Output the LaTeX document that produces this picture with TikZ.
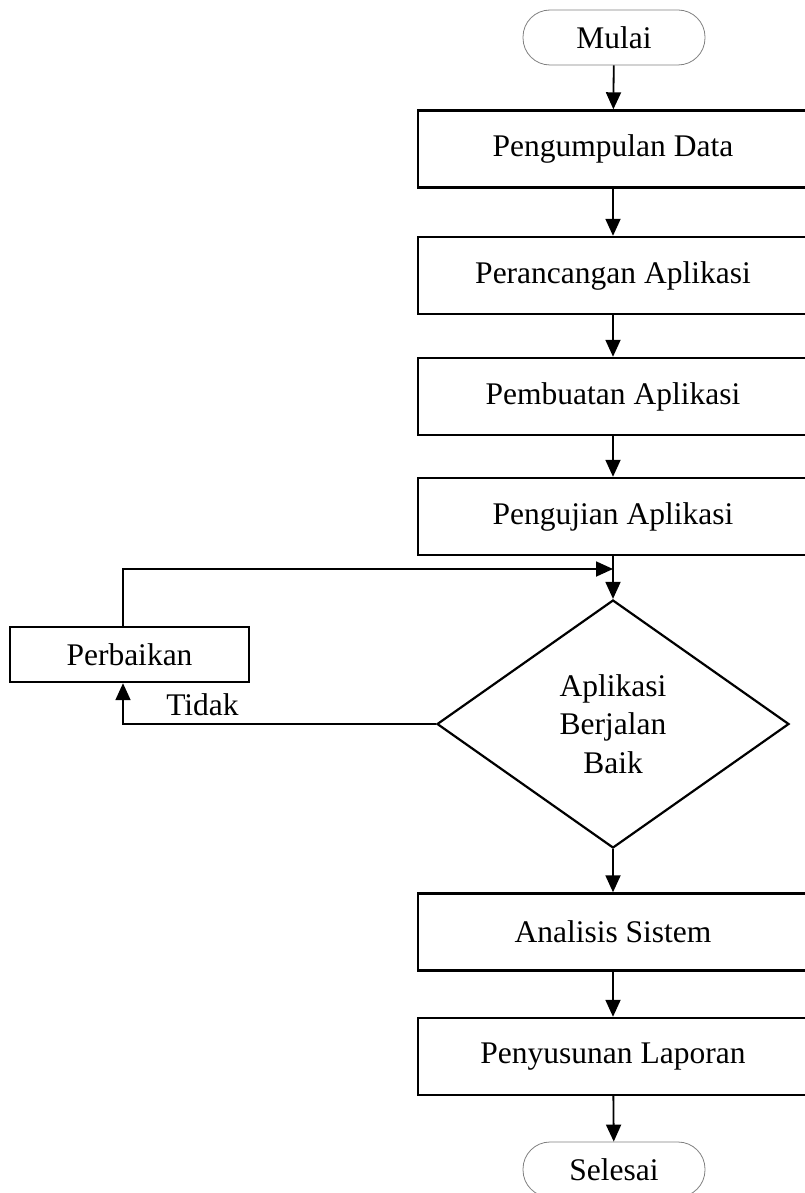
\documentclass[tikz,border=0pt]{standalone}
\usepackage{fontspec}
\setmainfont{Liberation Serif}
\usetikzlibrary{shapes.geometric,arrows.meta}
\begin{document}
\begin{tikzpicture}[x=1pt,y=-1pt,
    font=\fontsize{31.5}{38.5}\selectfont,
    proses/.style={shape=rectangle,draw=black,line width=2.4pt,minimum width=390pt,minimum height=77pt},
    terminal/.style={shape=rectangle,rounded corners=27pt,draw=gray,line width=0.8pt,minimum width=182pt,minimum height=55pt},
    keputusan/.style={shape=diamond,draw=black,line width=2.2pt,minimum width=352pt,minimum height=248pt,align=center,inner sep=0pt},
    panah/.style={-{Triangle[length=17pt,width=15pt]},line width=1.8pt}]
      \clip (0,0) rectangle (805,1193);

      \node[terminal] (S) at (614,37.5) {Mulai};

      \node[proses] (P1) at (613,149) {Pengumpulan Data};
      \node[proses] (P2) at (613,275.5) {Perancangan Aplikasi};
      \node[proses] (P3) at (613,396.5) {Pembuatan Aplikasi};
      \node[proses] (P4) at (613,516.5) {Pengujian Aplikasi};

      \node[keputusan] (K) at (613,724) {Aplikasi\\Berjalan\\Baik};
      \node[proses,minimum width=239pt,minimum height=55pt] (R) at (129.5,654.5) {Perbaikan};

      \node[proses] (P5) at (613,932) {Analisis Sistem};
      \node[proses] (P6) at (613,1056.5) {Penyusunan Laporan};

      \node[terminal] (E) at (614,1169.5) {Selesai};

      \coordinate (J) at (613,569);

      \draw[panah] (S) -- (P1);
      \draw[panah] (P1) -- (P2);
      \draw[panah] (P2) -- (P3);
      \draw[panah] (P3) -- (P4);
      \draw[panah] (P4) -- (K);
      \draw[panah] ([xshift=-6.5pt]R.north) |- (J);
      \draw[panah] (K.west) -| ([xshift=-6.5pt]R.south)
            node[pos=0.373,above=5pt,inner sep=2pt] {Tidak};
      \draw[panah] (K) -- (P5);
      \draw[panah] (P5) -- (P6);
      \draw[panah] (P6) -- (E);
\end{tikzpicture}
\end{document}
